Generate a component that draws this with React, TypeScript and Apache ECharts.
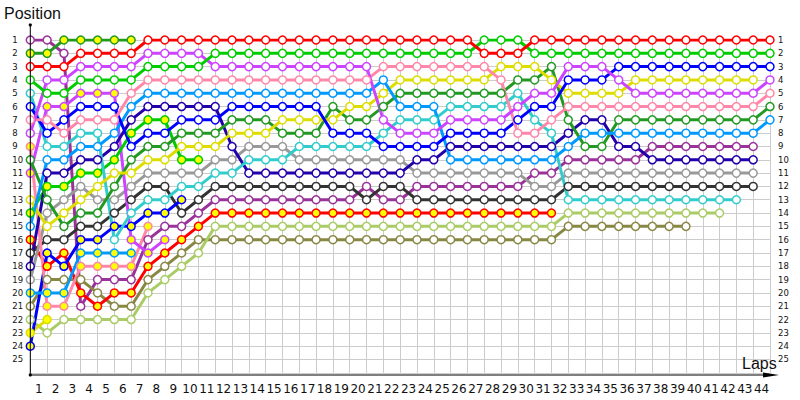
import React, { useEffect, useRef } from 'react';
import * as echarts from 'echarts';

// Tick labels
const lapLabels = ['1','2','3','4','5','6','7','8','9','10','11','12','13','14','15','16','17','18','19','20','21','22','23','24','25','26','27','28','29','30','31','32','33','34','35','36','37','38','39','40','41','42','43','44'];

// Positions per lap (index = lap number, starting at lap 0 = grid)
const purple = [1,1,2,21,19,19,19,16,15,15,14,13,13,13,13,13,13,13,13,13,12,13,13,12,12,12,12,12,12,12,11,11,10,10,10,10,10,9,9,9,9,9,9,9];
const greenA = [2,2,1,1,1,1,1];
const red = [3,3,3,2,2,2,2,1,1,1,1,1,1,1,1,1,1,1,1,1,1,1,1,1,1,1,1,2,2,2,1,1,1,1,1,1,1,1,1,1,1,1,1,1,1];
const green = [4,5,5,4,4,4,4,3,3,3,3,2,2,2,2,2,2,2,2,2,2,2,2,2,2,2,2,1,1,1,2,2,2,2,2,2,2,2,2,2,2,2,2,2,2];
const cyan = [5,9,9,8,8,16,14,13,13,12,12,11,11,10,10,10,9,9,9,9,9,8,7,7,7,6,6,6,6,5,7,8,13,13,13,13,13,13,13,13,13,13,13];
const blue = [6,8,7,6,6,6,9,8,8,7,7,7,6,6,6,6,6,6,8,8,8,9,9,9,9,8,8,8,8,7,6,6,4,4,4,3,3,3,3,3,3,3,3,3,3];
const pink = [7,7,8,7,7,7,5,4,4,4,4,4,4,4,4,4,4,4,4,4,4,3,3,3,3,3,3,3,4,8,8,7,6,6,6,6,6,6,6,6,6,6,6,6,5];
const violet = [8,4,4,3,3,3,3,2,2,2,2,3,3,3,3,3,3,3,3,3,3,7,8,8,8,7,7,7,7,6,5,5,3,3,3,4,5,5,5,5,5,5,5,5,4];
const pinkB = [9,21,21,18,18,18,18,15];
const darkGreen = [10,13,15,14,14,12,10,9,9,8,8,8,7,7,7,8,8,8,6,7,7,6,5,5,5,5,5,5,5,4,4,3,7,9,9,7,7,7,7,7,7,7,7,7,6];
const violetB = [11,6,6,5,5,5,16,17,16];
const yellow = [13,15,14,13,12,11,11,10,10,9,9,9,8,8,8,7,7,7,7,6,6,5,4,4,4,4,4,4,3,3,3,4,5,5,5,5,4,4,4,4,4,4,4,4];
const greenB = [14,12,12,11,11,10,8,7,7,10,10];
const lightBlue = [15,10,10,9,9,8,6,5,5,5,5,5,5,5,5,5,5,5,5,5,5,4,6,6,6,10,10,10,10,10,10,10,9,8,8,8,8,8,8,8,8,8,8,8,7];
const redB = [16,18,17,20,21,20,20,18,17,16,15,14,14,14,14,14,14,14,14,14,14,14,14,14,14,14,14,14,14,14,14,14];
const black = [17,16,16,15,15,14,13,12,12,14,13,12,12,12,12,12,12,12,12,12,13,12,12,13,13,13,13,13,13,13,13,13,12,12,12,12,12,12,12,12,12,12,12,12];
const navy = [18,11,11,10,10,9,7,6,6,6,6,6,9,11,11,11,11,11,11,11,11,11,11,10,10,9,9,9,9,9,9,9,8,7,7,9,9,10,10,10,10,10,10,10];
const grey = [19,14,13,12,13,13,12,11,11,11,11,10,10,9,9,9,10,10,10,10,10,10,10,11,11,11,11,11,11,11,12,12,11,11,11,11,11,11,11,11,11,11,11,11];
const lightBlueB = [20,20,20,17,17,17,17];
const olive = [21,19,19,19,20,21,21,19,18,17,16,16,16,16,16,16,16,16,16,16,16,16,16,16,16,16,16,16,16,16,16,16,15,15,15,15,15,15,15,15];
const lightOlive = [22,23,22,22,22,22,22,20,19,18,17,15,15,15,15,15,15,15,15,15,15,15,15,15,15,15,15,15,15,15,15,15,14,14,14,14,14,14,14,14,14,14];
const yellowB = [23,22];
const blueB = [24,17,18,16,16,15,15,14,14,13];

const WHITE = '#ffffff';
const YF = '#ffff00';

const drivers = [
  { name: 'purple', color: '#993399', fill: WHITE, pos: purple },
  { name: 'greenA', color: '#229922', fill: YF, pos: greenA },
  { name: 'olive', color: '#888844', fill: WHITE, pos: olive },
  { name: 'lightOlive', color: '#aacc66', fill: WHITE, pos: lightOlive },
  { name: 'redB', color: '#ff0000', fill: YF, pos: redB },
  { name: 'black', color: '#333333', fill: WHITE, pos: black },
  { name: 'grey', color: '#999999', fill: WHITE, pos: grey },
  { name: 'yellowB', color: '#dddd00', fill: YF, pos: yellowB },
  { name: 'blueB', color: '#0000ff', fill: YF, pos: blueB },
  { name: 'lightBlueB', color: '#0099ff', fill: YF, pos: lightBlueB },
  { name: 'pinkB', color: '#ff88aa', fill: YF, pos: pinkB },
  { name: 'violetB', color: '#cc44ff', fill: YF, pos: violetB },
  { name: 'greenB', color: '#00cc00', fill: YF, pos: greenB },
  { name: 'navy', color: '#2200aa', fill: WHITE, pos: navy },
  { name: 'cyan', color: '#33cccc', fill: WHITE, pos: cyan },
  { name: 'darkGreen', color: '#229922', fill: WHITE, pos: darkGreen },
  { name: 'yellow', color: '#dddd00', fill: WHITE, pos: yellow },
  { name: 'lightBlue', color: '#0099ff', fill: WHITE, pos: lightBlue },
  { name: 'blue', color: '#0000ff', fill: WHITE, pos: blue },
  { name: 'pink', color: '#ff88aa', fill: WHITE, pos: pink },
  { name: 'violet', color: '#cc44ff', fill: WHITE, pos: violet },
  { name: 'green', color: '#00cc00', fill: WHITE, pos: green },
  { name: 'red', color: '#ff0000', fill: WHITE, pos: red },
];

export default function App() {
  const ref = useRef<HTMLDivElement>(null);
  useEffect(() => {
    if (!ref.current) return;
    const chart = echarts.init(ref.current, null, { renderer: 'svg' });
    const gridLeft = 30.3;
    const gridTop = 40;
    const gridRight = 30;
    const gridBottom = 27.2;
    const axisY = 375;
    const option: any = {
      animation: false,
      backgroundColor: '#ffffff',
      grid: { left: gridLeft, right: gridRight, top: gridTop, bottom: gridBottom, containLabel: false },
      xAxis: [
        {
          type: 'value', min: 0, max: 44, interval: 1,
          axisLine: { show: false }, axisTick: { show: false }, axisLabel: { show: false },
          splitLine: { show: true, lineStyle: { color: '#cccccc', width: 1 } },
        },
        {
          type: 'category', data: lapLabels, boundaryGap: true, position: 'bottom',
          axisLine: { show: false }, axisTick: { show: false }, splitLine: { show: false },
          axisLabel: { show: true, interval: 0, margin: 10, color: '#111111', fontFamily: 'DejaVu Sans', fontSize: 12 },
        },
      ],
      yAxis: [
        {
          type: 'value', inverse: true, min: 1, max: 26, interval: 1, position: 'left',
          axisLine: { show: false }, axisTick: { show: false },
          splitLine: { show: true, lineStyle: { color: '#cccccc', width: 1 } },
          axisLabel: {
            show: true, margin: 18, align: 'left', color: '#111111', fontFamily: 'DejaVu Sans', fontSize: 8.5,
            formatter: (v: number) => (v <= 25 ? String(v) : ''),
          },
        },
        {
          type: 'value', inverse: true, min: 1, max: 26, interval: 1, position: 'right',
          axisLine: { show: false }, axisTick: { show: false }, splitLine: { show: false },
          axisLabel: {
            show: true, margin: 8, align: 'left', color: '#111111', fontFamily: 'DejaVu Sans', fontSize: 8.5,
            formatter: (v: number) => (v <= 25 ? String(v) : ''),
          },
        },
      ],
      series: drivers.map((d) => ({
        type: 'line',
        name: d.name,
        xAxisIndex: 0,
        yAxisIndex: 0,
        data: d.pos.map((p, i) => [i, p]),
        symbol: 'circle',
        symbolSize: 8,
        showSymbol: true,
        silent: true,
        lineStyle: { color: d.color, width: 3 },
        itemStyle: { color: d.fill, borderColor: d.color, borderWidth: 1.5 },
        emphasis: { disabled: true },
      })),
      graphic: [
        { type: 'line', silent: true, z: 100, shape: { x1: gridLeft, y1: 25, x2: gridLeft, y2: axisY }, style: { stroke: '#000000', lineWidth: 1 } },
        { type: 'circle', silent: true, z: 100, shape: { cx: gridLeft, cy: 25, r: 1.6 }, style: { fill: '#000000' } },
        { type: 'circle', silent: true, z: 100, shape: { cx: gridLeft, cy: axisY, r: 1.6 }, style: { fill: '#000000' } },
        { type: 'line', silent: true, z: 100, shape: { x1: gridLeft, y1: axisY, x2: 770, y2: axisY }, style: { stroke: '#000000', lineWidth: 1 } },
        { type: 'polygon', silent: true, z: 100, shape: { points: [[763, 372.5], [779, 375], [763, 377.5]] }, style: { fill: '#000000' } },
        { type: 'text', silent: true, z: 100, left: 4, top: 5, style: { text: 'Position', fill: '#111111', font: '16px "Liberation Sans"' } },
        { type: 'text', silent: true, z: 100, left: 742, top: 355, style: { text: 'Laps', fill: '#111111', font: '16px "Liberation Sans"' } },
      ],
    };
    chart.setOption(option);
    return () => chart.dispose();
  }, []);
  return <div ref={ref} style={{ position: 'absolute', left: 0, top: 0, width: 800, height: 400 }} />;
}
